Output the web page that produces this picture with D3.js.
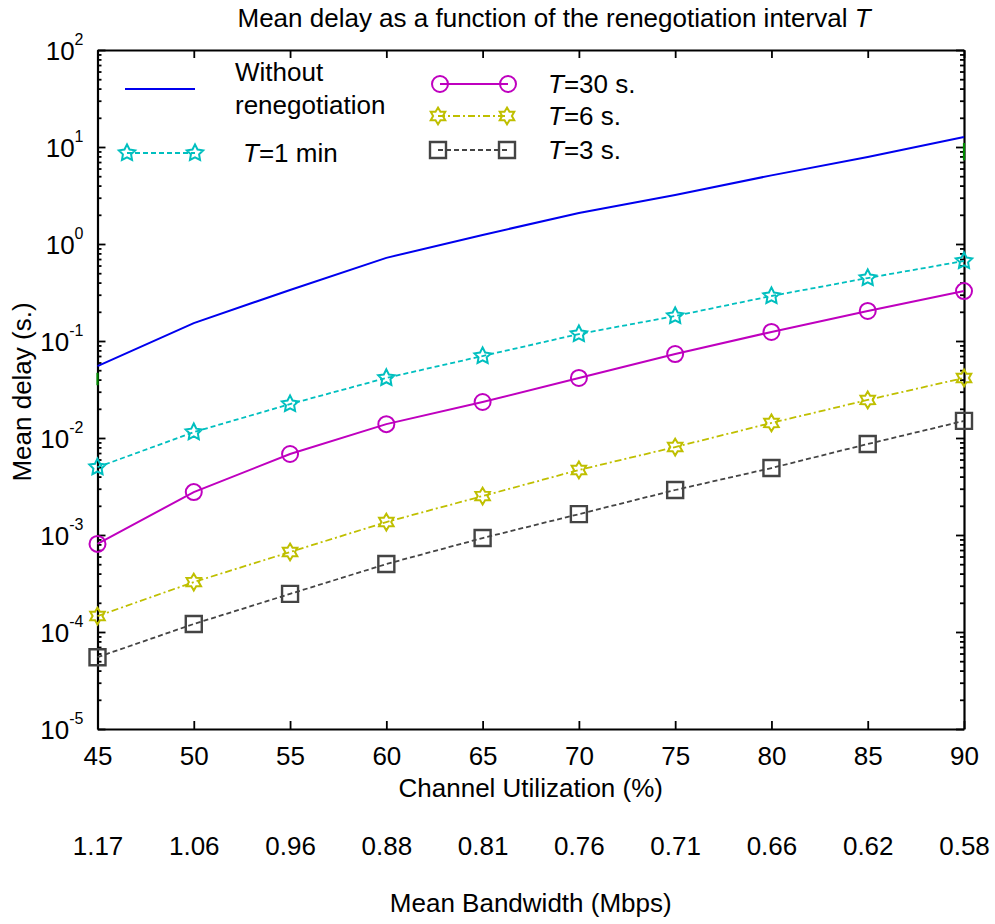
<!DOCTYPE html>
<html>
<head>
<meta charset="utf-8">
<script src="https://cdn.jsdelivr.net/npm/d3@7"></script>
<style>
  body { margin: 0; background: #fff; }
  svg text { font-family: "Liberation Sans", Arial, sans-serif; fill: #000; }
</style>
</head>
<body>
<div id="chart"></div>
<script>
var W = 995, H = 924;
var margin = {top: 50, right: 31, bottom: 195, left: 97.5},
    width = W - margin.left - margin.right,
    height = H - margin.top - margin.bottom;

// data
var utilization = [45, 50, 55, 60, 65, 70, 75, 80, 85, 90];
var bandwidth = ["1.17", "1.06", "0.96", "0.88", "0.81", "0.76", "0.71", "0.66", "0.62", "0.58"];
var noReneg = [0.055, 0.153, 0.336, 0.72, 1.24, 2.09, 3.2, 5.1, 7.9, 12.7];
var t1min  = [0.0050, 0.0115, 0.0224, 0.0416, 0.070, 0.118, 0.181, 0.291, 0.446, 0.668];
var t30s   = [0.00081, 0.00277, 0.00684, 0.0139, 0.0235, 0.0416, 0.0734, 0.124, 0.204, 0.327];
var t6s    = [0.000146, 0.000327, 0.000668, 0.00136, 0.00252, 0.00468, 0.00807, 0.0143, 0.0247, 0.0416];
var t3s    = [0.000055, 0.000121, 0.000247, 0.000502, 0.00093, 0.00164, 0.00291, 0.0049, 0.00867, 0.0150];
var greenBits = [{x: 45, lo: 0.035, hi: 0.047}, {x: 90, lo: 7.3, hi: 11}];
var yMajor = [1e-5, 1e-4, 1e-3, 1e-2, 1e-1, 1, 10, 100];

var fontSize = 26;

var svg = d3.select("#chart").append("svg")
    .attr("width", W)
    .attr("height", H);

var g = svg.append("g")
    .attr("transform", "translate(" + margin.left + "," + margin.top + ")");

var x = d3.scaleLinear().domain([45, 90]).range([0, width]);
var y = d3.scaleLog().domain([1e-5, 1e2]).range([height, 0]);

// minor ticks for the log axis
var yMinor = [];
yMajor.slice(0, -1).forEach(function(d) {
    for (var k = 2; k <= 9; k++) yMinor.push(d * k);
});

function styleAxis(sel) {
    sel.select(".domain").attr("stroke-width", 2.2);
    sel.selectAll(".tick line").attr("stroke-width", 1.8);
    sel.selectAll("text").style("font-size", fontSize + "px")
        .style("font-family", '"Liberation Sans", Arial, sans-serif');
}

// bottom axis with labels
g.append("g")
    .attr("transform", "translate(0," + height + ")")
    .call(d3.axisBottom(x).tickValues(utilization).tickSize(-8).tickSizeOuter(0).tickPadding(18))
    .call(styleAxis);

// top axis
g.append("g")
    .call(d3.axisTop(x).tickValues(utilization).tickSize(-8).tickSizeOuter(0).tickFormat(""))
    .call(styleAxis);

// left axis
var yLeft = g.append("g")
    .call(d3.axisLeft(y).tickValues(yMajor).tickSize(-8).tickSizeOuter(0).tickPadding(14)
        .tickFormat(function(d) { return d; }))
    .call(styleAxis);

yLeft.selectAll(".tick text").each(function(d) {
    var t = d3.select(this);
    var e = Math.round(Math.log10(d));
    t.text(null).attr("dy", "0.36em");
    t.append("tspan").text("10");
    t.append("tspan").attr("dy", "-15").style("font-size", "16px").text(e);
});

g.append("g")
    .call(d3.axisLeft(y).tickValues(yMinor).tickSize(-4).tickSizeOuter(0).tickFormat(""))
    .call(styleAxis)
    .select(".domain").remove();

// right axis
g.append("g")
    .attr("transform", "translate(" + width + ",0)")
    .call(d3.axisRight(y).tickValues(yMajor).tickSize(-8).tickSizeOuter(0).tickFormat(""))
    .call(styleAxis);
g.append("g")
    .attr("transform", "translate(" + width + ",0)")
    .call(d3.axisRight(y).tickValues(yMinor).tickSize(-4).tickSizeOuter(0).tickFormat(""))
    .call(styleAxis)
    .select(".domain").remove();

// bandwidth row below the axis
g.append("g")
    .attr("transform", "translate(0," + (height + 108) + ")")
    .call(d3.axisBottom(x).tickValues(utilization).tickSize(0).tickPadding(0)
        .tickFormat(function(d, i) { return bandwidth[i]; }))
    .call(styleAxis)
    .call(function(s) { s.select(".domain").remove(); });

// axis titles
g.append("text")
    .attr("x", width / 2)
    .attr("y", height + 68)
    .attr("text-anchor", "middle")
    .style("font-size", fontSize + "px")
    .text("Channel Utilization (%)");

g.append("text")
    .attr("x", width / 2)
    .attr("y", height + 183)
    .attr("text-anchor", "middle")
    .style("font-size", fontSize + "px")
    .text("Mean Bandwidth (Mbps)");

svg.append("text")
    .attr("transform", "translate(31,392) rotate(-90)")
    .attr("text-anchor", "middle")
    .style("font-size", fontSize + "px")
    .text("Mean delay (s.)");

var title = svg.append("text")
    .attr("x", 554)
    .attr("y", 27)
    .attr("text-anchor", "middle")
    .style("font-size", fontSize + "px");
title.append("tspan").text("Mean delay as a function of the renegotiation interval ");
title.append("tspan").style("font-style", "italic").text("T");

// markers
function starPath(n, R, r) {
    var pts = [];
    for (var i = 0; i < 2 * n; i++) {
        var a = -Math.PI / 2 + i * Math.PI / n;
        var rad = i % 2 === 0 ? R : r;
        pts.push([rad * Math.cos(a), rad * Math.sin(a)]);
    }
    return "M" + pts.map(function(p) { return p[0].toFixed(2) + "," + p[1].toFixed(2); }).join("L") + "Z";
}
var markers = {
    star5: starPath(5, 8.6, 4.3),
    star6: starPath(6, 8.4, 4.9),
    circle: d3.symbol().type(d3.symbolCircle).size(Math.PI * 8 * 8)(),
    square: d3.symbol().type(d3.symbolSquare).size(16 * 16)()
};

var series = [
    {name: "none", values: noReneg, color: "#0000ee", dash: null, width: 2, marker: null},
    {name: "t1", values: t1min, color: "#00bfbf", dash: "5,3", width: 1.8, marker: "star5"},
    {name: "t30", values: t30s, color: "#bf00bf", dash: null, width: 2, marker: "circle"},
    {name: "t6", values: t6s, color: "#bfbf00", dash: "7,3,2,3", width: 1.8, marker: "star6"},
    {name: "t3", values: t3s, color: "#444444", dash: "5,3", width: 1.8, marker: "square"}
];

var line = d3.line()
    .x(function(d, i) { return x(utilization[i]); })
    .y(function(d) { return y(d); });

// green bits along the frame
g.selectAll(".green")
    .data(greenBits)
    .enter().append("line")
    .attr("x1", function(d) { return x(d.x); })
    .attr("x2", function(d) { return x(d.x); })
    .attr("y1", function(d) { return y(d.lo); })
    .attr("y2", function(d) { return y(d.hi); })
    .attr("stroke", "#008a00")
    .attr("stroke-width", 2.2);

series.forEach(function(s) {
    g.append("path")
        .datum(s.values)
        .attr("d", line)
        .attr("fill", "none")
        .attr("stroke", s.color)
        .attr("stroke-width", s.width)
        .attr("stroke-dasharray", s.dash);
    if (s.marker) {
        g.selectAll(".m-" + s.name)
            .data(s.values)
            .enter().append("path")
            .attr("class", "m-" + s.name)
            .attr("transform", function(d, i) { return "translate(" + x(utilization[i]) + "," + y(d) + ")"; })
            .attr("d", markers[s.marker])
            .attr("fill", "none")
            .attr("stroke", s.color)
            .attr("stroke-width", s.marker === "square" ? 2.4 : 2);
    }
});

// legend
var legend = [
    {s: series[0], x1: 125, x2: 195, y: 89, tx: 235, lines: ["Without", "renegotiation"]},
    {s: series[1], x1: 127, x2: 195, y: 153, tx: 243, label: "=1 min"},
    {s: series[2], x1: 440, x2: 508, y: 84, tx: 548, label: "=30 s."},
    {s: series[3], x1: 438, x2: 507, y: 116, tx: 548, label: "=6 s."},
    {s: series[4], x1: 438, x2: 507, y: 150, tx: 548, label: "=3 s."}
];

legend.forEach(function(l) {
    svg.append("line")
        .attr("x1", l.x1).attr("x2", l.x2)
        .attr("y1", l.y).attr("y2", l.y)
        .attr("stroke", l.s.color)
        .attr("stroke-width", l.s.width)
        .attr("stroke-dasharray", l.s.dash);
    if (l.s.marker) {
        [l.x1, l.x2].forEach(function(px) {
            svg.append("path")
                .attr("transform", "translate(" + px + "," + l.y + ")")
                .attr("d", markers[l.s.marker])
                .attr("fill", "none")
                .attr("stroke", l.s.color)
                .attr("stroke-width", l.s.marker === "square" ? 2.4 : 2);
        });
    }
    if (l.lines) {
        l.lines.forEach(function(t, i) {
            svg.append("text")
                .attr("x", l.tx).attr("y", l.y - 8 + i * 33)
                .style("font-size", fontSize + "px")
                .text(t);
        });
    } else {
        var t = svg.append("text")
            .attr("x", l.tx).attr("y", l.y + 9)
            .style("font-size", fontSize + "px");
        t.append("tspan").style("font-style", "italic").text("T");
        t.append("tspan").text(l.label);
    }
});
</script>
</body>
</html>
